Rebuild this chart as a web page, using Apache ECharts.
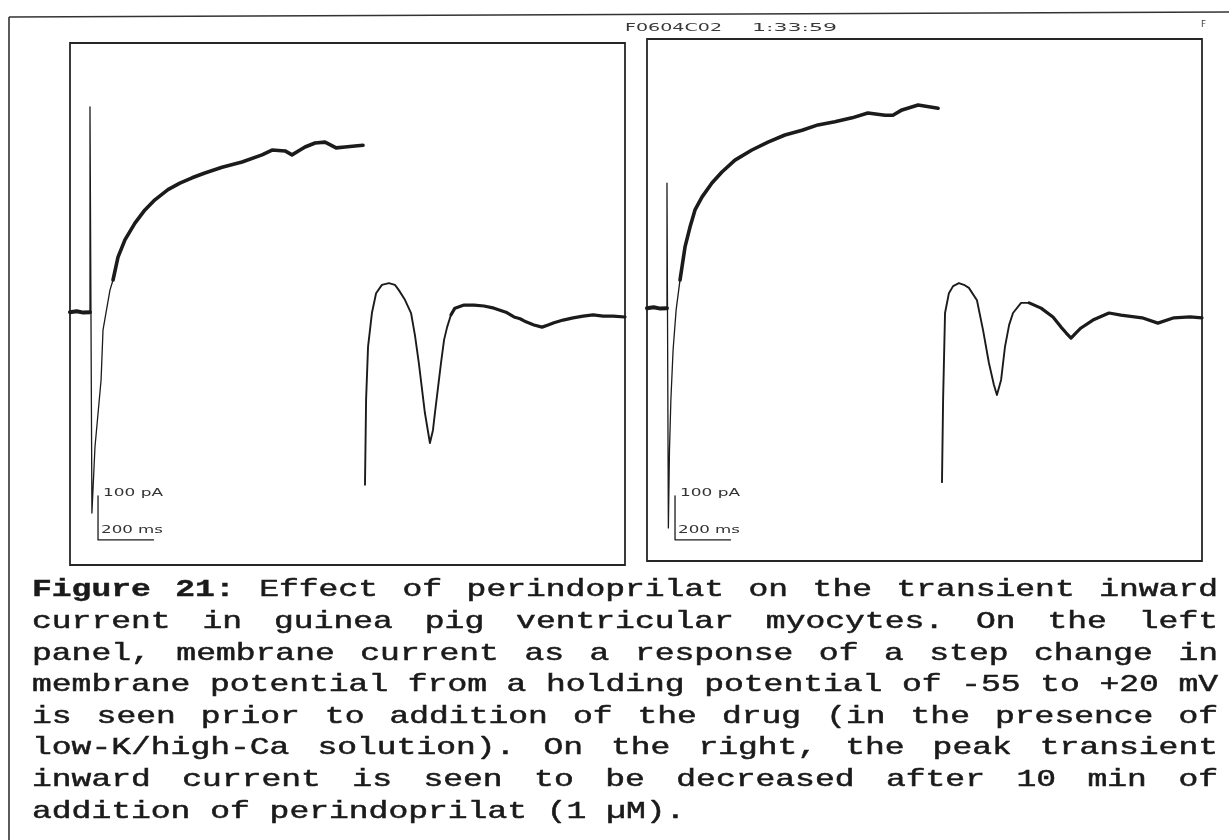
<!DOCTYPE html>
<html>
<head>
<meta charset="utf-8">
<script src="https://cdn.jsdelivr.net/npm/echarts@6/dist/echarts.min.js"></script>
<style>
  html, body { margin: 0; padding: 0; background: #ffffff; }
  #chart { width: 1229px; height: 840px; }
</style>
</head>
<body>
<div id="chart"></div>
<script>
// Whole-cell membrane current, time in ms, current in pA (0 = holding current).
// Control recording (low-K/high-Ca solution)
const controlHolding = [[0, -1], [24, 1], [48, -2], [72, -1]];
const controlCapacitive = [[72, -1], [72, 465], [79, -457], [90, -307], [112, -155], [119, -41], [144, 49], [155, 72]];
const controlStep = [
  [155, 72], [173, 124], [198, 163], [234, 201], [270, 231], [306, 254], [353, 277], [396, 292],
  [440, 304], [486, 315], [548, 328], [620, 340], [692, 356], [728, 367], [775, 365], [800, 356],
  [829, 367], [847, 374], [883, 383], [919, 385], [959, 372], [991, 374], [1027, 376], [1056, 378]
];
const controlTail = [
  [1063, -393], [1067, -200], [1074, -80], [1088, -3], [1103, 42], [1124, 61], [1149, 65], [1171, 61],
  [1185, 49], [1207, 27], [1229, -3], [1243, -53], [1257, -116], [1279, -230], [1297, -298], [1308, -269],
  [1315, -230], [1337, -116], [1348, -64], [1359, -35], [1373, -7], [1387, 8], [1420, 15], [1456, 15],
  [1492, 13], [1528, 8], [1571, -1], [1600, -12], [1622, -16], [1643, -23], [1672, -30], [1701, -35],
  [1723, -30], [1744, -25], [1777, -19], [1813, -14], [1849, -10], [1885, -7], [1921, -10], [1957, -10],
  [2000, -12]
];

// After 10 min of perindoprilat (1 µM)
const drugHolding = [[0, -1], [24, 1], [48, -2], [72, -1]];
const drugCapacitive = [[72, -1], [72, 283], [77, -500], [81, -323], [86, -210], [94, -96], [105, -5], [119, 63]];
const drugStep = [
  [119, 63], [137, 138], [155, 183], [173, 222], [198, 251], [234, 283], [270, 308], [317, 335],
  [378, 358], [436, 376], [497, 392], [559, 403], [616, 415], [677, 422], [739, 431], [796, 442],
  [858, 437], [886, 437], [919, 449], [977, 460], [1049, 453]
];
const drugTail = [
  [1063, -396], [1067, -210], [1074, -12], [1088, 33], [1103, 49], [1124, 56], [1142, 52], [1160, 45],
  [1189, 17], [1211, -51], [1232, -125], [1250, -175], [1261, -198], [1276, -164], [1290, -89], [1305, -39],
  [1319, -12], [1348, 11], [1377, 11], [1420, -1], [1463, -21], [1492, -44], [1510, -57], [1528, -69],
  [1546, -57], [1564, -46], [1607, -28], [1665, -12], [1708, -17], [1784, -23], [1841, -35], [1899, -23],
  [1957, -21], [2000, -23]
];

// Calibration bars: 200 ms by 100 pA, anchored at the corner (time, current)
const scaleBarTime = 200;
const scaleBarCurrent = 100;
const controlBarCorner = [101, -518];
const drugBarCorner = [101, -527];
const scaleLabelCurrent = '100 pA';
const scaleLabelTime = '200 ms';

// Axis extents shared by both panels
const timeRange = [0, 2000];
const currentRange = [-575, 610];

const headerFile = 'F0604C02';
const headerTime = '1:33:59';
const headerMark = 'F';

const captionLines = [
  'Figure 21: Effect of perindoprilat on the transient inward',
  'current in guinea pig ventricular myocytes. On the left',
  'panel, membrane current as a response of a step change in',
  'membrane potential from a holding potential of -55 to +20 mV',
  'is seen prior to addition of the drug (in the presence of',
  'low-K/high-Ca solution). On the right, the peak transient',
  'inward current is seen to be decreased after 10 min of',
  'addition of perindoprilat (1 µM).'
];
const captionBoldWords = 2;

const INK = '#1b1b1b';
const measureCtx = document.createElement('canvas').getContext('2d');
function textWidth(str, weight, size, family) {
  measureCtx.font = weight + ' ' + size + 'px ' + family;
  return measureCtx.measureText(str).width;
}

const chart = echarts.init(document.getElementById('chart'), null, { renderer: 'canvas' });

const panels = [
  { left: 70, top: 43 },
  { left: 647, top: 39 }
];

function hiddenAxis(idx, range) {
  return {
    type: 'value', gridIndex: idx, min: range[0], max: range[1],
    axisLine: { show: false }, axisTick: { show: false },
    axisLabel: { show: false }, splitLine: { show: false }
  };
}

function trace(idx, data, width) {
  return {
    type: 'line', xAxisIndex: idx, yAxisIndex: idx, data: data,
    showSymbol: false, symbol: 'none', silent: true, animation: false,
    lineStyle: { color: INK, width: width, join: 'round', cap: 'round' }
  };
}

function barPath(corner) {
  return [
    [corner[0], corner[1] + scaleBarCurrent],
    [corner[0], corner[1]],
    [corner[0] + scaleBarTime, corner[1]]
  ];
}

function panelSeries(idx, holding, capacitive, step, tail, corner) {
  return [
    trace(idx, holding, 4),
    trace(idx, capacitive, 1.3),
    trace(idx, step, 3.6),
    trace(idx, tail.filter(p => p[0] <= 1390), 1.9),
    trace(idx, tail.filter(p => p[0] >= 1370), 3.2),
    trace(idx, barPath(corner), 1.3)
  ];
}

const option = {
  backgroundColor: '#ffffff',
  animation: false,
  grid: panels.map(p => ({
    left: p.left, top: p.top, width: 555, height: 522,
    show: true, borderColor: '#262626', borderWidth: 1.8, backgroundColor: 'transparent'
  })),
  xAxis: [hiddenAxis(0, timeRange), hiddenAxis(1, timeRange)],
  yAxis: [hiddenAxis(0, currentRange), hiddenAxis(1, currentRange)],
  series: [
    ...panelSeries(0, controlHolding, controlCapacitive, controlStep, controlTail, controlBarCorner),
    ...panelSeries(1, drugHolding, drugCapacitive, drugStep, drugTail, drugBarCorner)
  ]
};
chart.setOption(option);

// ---- text and frame overlay ----
const graphics = [];

// outer frame (top and left rules)
graphics.push({ type: 'polyline', shape: { points: [[9, 17], [1229, 12]] }, style: { stroke: '#333', lineWidth: 1.6, fill: null }, silent: true });
graphics.push({ type: 'polyline', shape: { points: [[9, 17], [9, 840]] }, style: { stroke: '#333', lineWidth: 1.6, fill: null }, silent: true });

function fittedText(str, x, y, family, size, color, targetWidth) {
  const w = textWidth(str, 'normal', size, family);
  graphics.push({
    type: 'text', x: x, y: y, scaleX: targetWidth / w, silent: true,
    style: {
      text: str, fill: color, fontFamily: family, fontSize: size, fontWeight: 'normal',
      textAlign: 'left', verticalAlign: 'middle'
    }
  });
}

// acquisition header
fittedText(headerFile, 625, 28, 'DejaVu Sans', 11, '#3a3a3a', 97);
fittedText(headerTime, 752, 28, 'DejaVu Sans', 11, '#3a3a3a', 85);
fittedText(headerMark, 1201, 25, 'DejaVu Sans', 9, '#3a3a3a', 5);

// calibration labels placed from the bar corners
[[0, controlBarCorner], [1, drugBarCorner]].forEach(([idx, corner]) => {
  const top = chart.convertToPixel({ gridIndex: idx }, [corner[0], corner[1] + scaleBarCurrent]);
  const bottom = chart.convertToPixel({ gridIndex: idx }, corner);
  fittedText(scaleLabelCurrent, top[0] + 5, top[1] - 2, 'DejaVu Sans', 10, '#333', 60);
  fittedText(scaleLabelTime, bottom[0] + 3, bottom[1] - 9, 'DejaVu Sans', 10, '#333', 62);
});

// justified caption, fixed-pitch
const capFamily = 'Liberation Mono';
const capSize = 24;
const cell = 19.8;
const capLeft = 32, capRight = 1218;
const firstBaseline = 602, lineStep = 31.6;
const advance = textWidth('M', 'normal', capSize, capFamily);
const capScale = cell / advance;
let wordCount = 0;
captionLines.forEach((line, li) => {
  const words = line.split(' ');
  const letters = words.reduce((s, w) => s + w.length, 0);
  const last = li === captionLines.length - 1;
  const gap = last ? cell : (capRight - capLeft - letters * cell) / (words.length - 1);
  let x = capLeft;
  const y = firstBaseline + li * lineStep;
  words.forEach(w => {
    const bold = wordCount < captionBoldWords;
    graphics.push({
      type: 'text', x: x, y: y, scaleX: capScale, silent: true,
      style: {
        text: w, fill: '#1a1a1a', stroke: '#1a1a1a', lineWidth: bold ? 0.4 : 0.5,
        fontFamily: capFamily, fontSize: capSize, fontWeight: bold ? 'bold' : 'normal',
        textAlign: 'left', verticalAlign: 'bottom'
      }
    });
    x += w.length * cell + gap;
    wordCount++;
  });
});

chart.setOption({ graphic: { elements: graphics } });
</script>
</body>
</html>
